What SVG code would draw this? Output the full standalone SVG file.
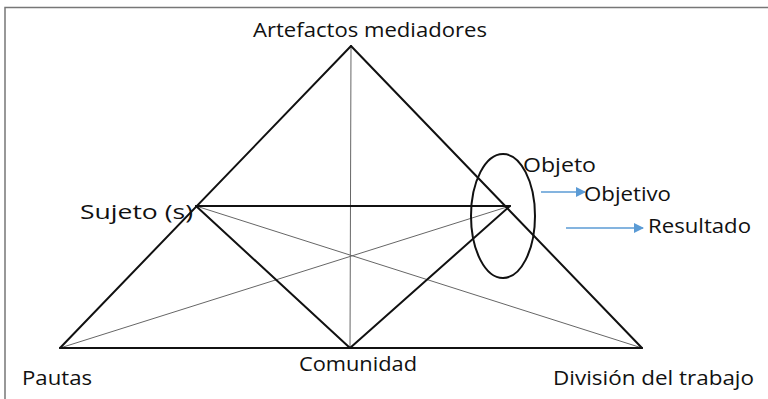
<svg xmlns="http://www.w3.org/2000/svg" width="768" height="399" viewBox="0 0 768 399">
<style>
.t{font-family:"Open Sans","Noto Sans","Liberation Sans",sans-serif;font-size:20px;fill:#111}
.k{stroke:#111;stroke-width:2;fill:none;stroke-linecap:round}
.g{stroke:#666;stroke-width:1;fill:none}
.b{stroke:#5b9bd5;stroke-width:1.3;fill:none}
</style>
<defs>
<marker id="ah" viewBox="0 0 10 10" refX="9" refY="5" markerWidth="12" markerHeight="10" markerUnits="userSpaceOnUse" orient="auto">
<path d="M0,0 L10,5 L0,10 z" fill="#5b9bd5"/>
</marker>
</defs>
<rect width="768" height="399" fill="#fff"/>
<path d="M5,399 V7.5 H768" stroke="#777" stroke-width="1.5" fill="none"/>
<g id="connectors">
<line class="g" x1="351" y1="46" x2="350" y2="348"/>
<line class="g" x1="60" y1="348" x2="510" y2="206"/>
<line class="g" x1="196" y1="206" x2="642" y2="348"/>
<line class="k" x1="60" y1="348" x2="351" y2="46"/>
<line class="k" x1="351" y1="46" x2="642" y2="348"/>
<line class="k" x1="60" y1="348" x2="642" y2="348"/>
<line class="k" x1="196" y1="206" x2="510" y2="206"/>
<line class="k" x1="196" y1="206" x2="350" y2="348"/>
<line class="k" x1="350" y1="348" x2="510" y2="206"/>
<line class="b" x1="541" y1="192" x2="585" y2="192" marker-end="url(#ah)"/>
<line class="b" x1="566" y1="228" x2="643" y2="228" marker-end="url(#ah)"/>
</g>
<g id="ellipse-objeto"><ellipse cx="503" cy="216" rx="32" ry="62" class="k" stroke-width="1.8"/></g>
<g id="artefactos"><text class="t" x="253" y="37" textLength="234" lengthAdjust="spacingAndGlyphs">Artefactos mediadores</text></g>
<g id="sujeto"><text class="t" x="80" y="219" textLength="113" lengthAdjust="spacingAndGlyphs">Sujeto (s)</text></g>
<g id="objeto"><text class="t" x="523" y="172" textLength="73" lengthAdjust="spacingAndGlyphs">Objeto</text></g>
<g id="objetivo"><text class="t" x="584" y="201" textLength="87" lengthAdjust="spacingAndGlyphs">Objetivo</text></g>
<g id="resultado"><text class="t" x="648" y="233" textLength="103" lengthAdjust="spacingAndGlyphs">Resultado</text></g>
<g id="pautas"><text class="t" x="22" y="385" textLength="70" lengthAdjust="spacingAndGlyphs">Pautas</text></g>
<g id="comunidad"><text class="t" x="299" y="371" textLength="118" lengthAdjust="spacingAndGlyphs">Comunidad</text></g>
<g id="division"><text class="t" x="553" y="385" textLength="201" lengthAdjust="spacingAndGlyphs">División del trabajo</text></g>
</svg>
